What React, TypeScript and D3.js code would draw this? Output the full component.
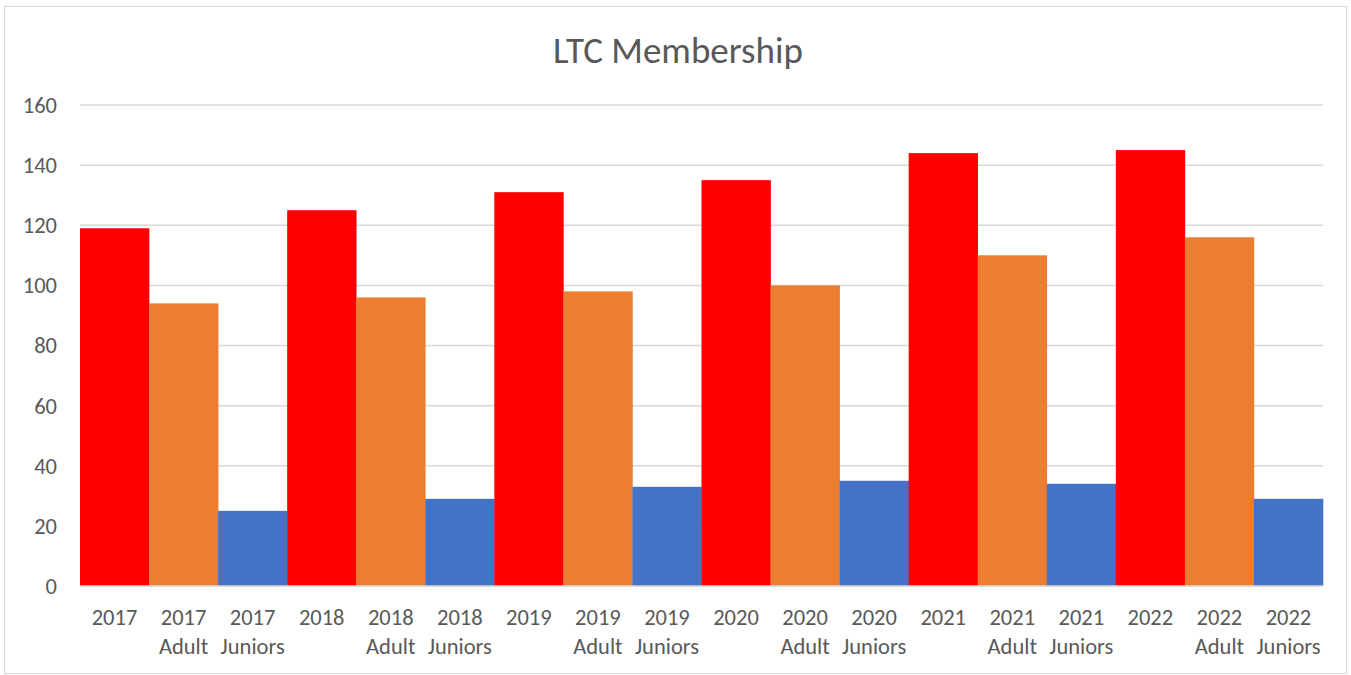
import React, { useEffect, useRef } from 'react';
import * as d3 from 'd3';

// category labels (two lines each, like the Excel wrap)
const years = ['2017', '2018', '2019', '2020', '2021', '2022'];
const groups = ['', 'Adult', 'Juniors'];
const totals = [119, 125, 131, 135, 144, 145];
const adults = [94, 96, 98, 100, 110, 116];
const juniors = [25, 29, 33, 35, 34, 29];
const yTicks = [0, 20, 40, 60, 80, 100, 120, 140, 160];
const barColors = ['#FF0000', '#ED7D31', '#4472C4'];

const W = 1351;
const H = 675;
const FONT = 'Carlito, Calibri, "Open Sans", sans-serif';

const App: React.FC = () => {
  const svgRef = useRef<SVGSVGElement>(null);

  useEffect(() => {
    if (!svgRef.current) return;
    const svg = d3.select(svgRef.current);
    svg.selectAll('*').remove();

    const margin = { left: 80, right: 1323, top: 105, bottom: 586 };

    const rows = years.flatMap((yr, i) => [
      { key: `${yr} `, line2: groups[0], year: yr, value: totals[i], color: barColors[0] },
      { key: `${yr} Adult`, line2: groups[1], year: yr, value: adults[i], color: barColors[1] },
      { key: `${yr} Juniors`, line2: groups[2], year: yr, value: juniors[i], color: barColors[2] },
    ]);

    const x = d3.scaleBand()
      .domain(rows.map(d => d.key))
      .range([margin.left, margin.right])
      .padding(0);

    const y = d3.scaleLinear()
      .domain([0, 160])
      .range([margin.bottom, margin.top]);

    // chart frame
    svg.append('rect')
      .attr('x', 4.5).attr('y', 6.5)
      .attr('width', W - 9).attr('height', H - 8)
      .attr('fill', '#fff')
      .attr('stroke', '#d9d9d9');

    // title
    svg.append('text')
      .attr('x', 678).attr('y', 63)
      .attr('text-anchor', 'middle')
      .attr('font-family', FONT)
      .attr('font-size', 37)
      .attr('fill', '#595959')
      .text('LTC Membership');

    // gridlines
    svg.append('g')
      .selectAll('line')
      .data(yTicks)
      .join('line')
      .attr('x1', margin.left).attr('x2', margin.right)
      .attr('y1', d => y(d)).attr('y2', d => y(d))
      .attr('stroke', '#d9d9d9')
      .attr('stroke-width', 1.5);

    // y labels
    svg.append('g')
      .selectAll('text')
      .data(yTicks)
      .join('text')
      .attr('x', 57)
      .attr('y', d => y(d))
      .attr('dy', '0.35em')
      .attr('text-anchor', 'end')
      .attr('font-family', FONT)
      .attr('font-size', 22.5)
      .attr('fill', '#595959')
      .text(d => d);

    // bars
    svg.append('g')
      .selectAll('rect')
      .data(rows)
      .join('rect')
      .attr('x', d => x(d.key)!)
      .attr('width', x.bandwidth() + 0.3)
      .attr('y', d => y(d.value))
      .attr('height', d => y(0) - y(d.value))
      .attr('fill', d => d.color);

    // baseline
    svg.append('line')
      .attr('x1', margin.left).attr('x2', margin.right)
      .attr('y1', y(0)).attr('y2', y(0))
      .attr('stroke', '#d9d9d9')
      .attr('stroke-width', 1.5);

    // x labels
    const lab = svg.append('g')
      .selectAll('text')
      .data(rows)
      .join('text')
      .attr('text-anchor', 'middle')
      .attr('font-family', FONT)
      .attr('font-size', 22.5)
      .attr('fill', '#595959');
    lab.append('tspan')
      .attr('x', d => x(d.key)! + x.bandwidth() / 2)
      .attr('y', 625)
      .text(d => d.year);
    lab.append('tspan')
      .attr('x', d => x(d.key)! + x.bandwidth() / 2)
      .attr('y', 654)
      .text(d => d.line2);
  }, []);

  return (
    <svg
      ref={svgRef}
      width={W}
      height={H}
      style={{ display: 'block', position: 'absolute', left: 0, top: 0 }}
    />
  );
};

export default App;
